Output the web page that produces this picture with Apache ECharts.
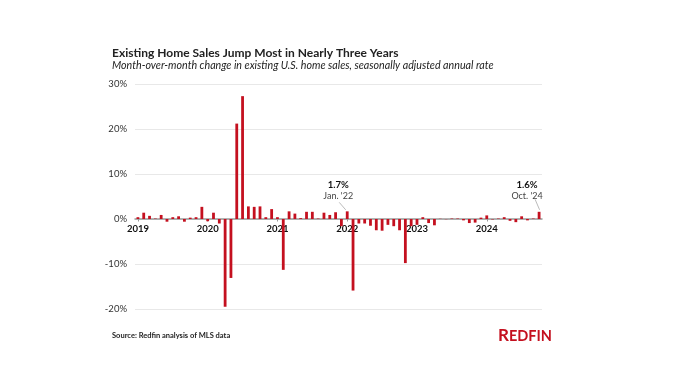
<!DOCTYPE html>
<html>
<head>
<meta charset="utf-8">
<script src="https://cdn.jsdelivr.net/npm/echarts@6/dist/echarts.min.js"></script>
<style>
html,body{margin:0;padding:0;background:#fff;}
#c{width:700px;height:379px;}
</style>
</head>
<body>
<div id="c"></div>
<script>
// Months Jan 2019 .. Oct 2024
const years = [2019, 2020, 2021, 2022, 2023, 2024];
const monthsPerYear = 12;
const lastYearMonths = 10;
const categories = [];
years.forEach((y, k) => {
  const n = k === years.length - 1 ? lastYearMonths : monthsPerYear;
  for (let m = 1; m <= n; m++) categories.push(y + '-' + String(m).padStart(2, '0'));
});

// Month-over-month change (%)
const values2019 = [0.4, 1.4, 0.7, 0.1, 0.9, -0.6, 0.4, 0.6, -0.6, 0.3, 0.4, 2.7];
const values2020 = [-0.5, 1.4, -1.0, -19.5, -13.1, 21.2, 27.3, 2.8, 2.7, 2.8, 0.4, 2.2];
const values2021 = [0.4, -11.3, 1.7, 1.2, 0.2, 1.6, 1.6, 0.1, 1.4, 0.9, 1.5, -1.6];
const values2022 = [1.7, -15.9, -1.0, -1.0, -1.5, -2.5, -2.6, -1.3, -1.6, -2.5, -9.8, -1.6];
const values2023 = [-1.3, 0.4, -0.9, -1.4, 0.05, -0.05, 0.1, 0.1, -0.3, -0.9, -0.8, 0.3];
const values2024 = [0.8, -0.1, 0.1, 0.4, -0.4, -0.7, 0.6, -0.3, 0.1, 1.6];
const values = [].concat(values2019, values2020, values2021, values2022, values2023, values2024);

const yTicks = [-20, -10, 0, 10, 20, 30];

const notes = [
  { cat: '2022-01', head: '1.7%', sub: "Jan. '22" },
  { cat: '2024-10', head: '1.6%', sub: "Oct. '24" }
];

const titleText = 'Existing Home Sales Jump Most in Nearly Three Years';
const subtitleText = 'Month-over-month change in existing U.S. home sales, seasonally adjusted annual rate';
const sourceLabel = 'Source:';
const sourceText = ' Redfin analysis of MLS data';

const RED = '#c4101f';
const GRID = { left: 135, right: 158, top: 84, bottom: 70 };
const plotH = 379 - GRID.top - GRID.bottom;
const yMin = yTicks[0], yMax = yTicks[yTicks.length - 1];
const zeroOffset = -plotH * (0 - yMin) / (yMax - yMin);

const chart = echarts.init(document.getElementById('c'), null, { renderer: 'canvas' });
const isJan = (i) => categories[i].endsWith('-01');

chart.setOption({
  backgroundColor: '#fff',
  animation: false,
  title: [
    { text: titleText, left: 107, top: 42,
      textStyle: { fontFamily: 'Lato', fontSize: 12, fontWeight: 'bold', color: '#222' } },
    { text: subtitleText, left: 107, top: 55,
      textStyle: { fontFamily: 'Lato', fontSize: 10.7, fontStyle: 'italic', fontWeight: 'normal', color: '#222' } },
    { text: '{b|' + sourceLabel + '}{n|' + sourceText + '}', left: 107, top: 327,
      textStyle: { rich: {
        b: { fontFamily: 'Lato', fontSize: 7.5, fontWeight: 'bold', color: '#222' },
        n: { fontFamily: 'Lato', fontSize: 7.5, color: '#222' } } } },
    { text: '{r|R}{e|EDFIN}', left: 493, top: 322,
      textStyle: { rich: {
        r: { fontFamily: 'Lato', fontSize: 17, fontWeight: 'bold', color: RED, verticalAlign: 'bottom' },
        e: { fontFamily: 'Lato', fontSize: 14.5, fontWeight: 'bold', color: RED, verticalAlign: 'bottom' } } } }
  ],
  grid: Object.assign({ containLabel: false }, GRID),
  xAxis: {
    type: 'category',
    data: categories,
    boundaryGap: true,
    offset: zeroOffset,
    axisLine: { onZero: false, lineStyle: { color: '#9a9a9a', width: 1.5 } },
    axisTick: { show: true, alignWithLabel: true, length: 2.5, interval: (i) => isJan(i),
      lineStyle: { color: '#9a9a9a' } },
    axisLabel: {
      interval: (i) => isJan(i),
      formatter: (v) => v.slice(0, 4),
      fontFamily: 'Lato', fontSize: 9.5, fontWeight: 'bold', color: '#111', margin: 5
    },
    splitLine: { show: false }
  },
  yAxis: {
    type: 'value',
    min: yMin, max: yMax, interval: 10,
    axisLine: { show: false },
    axisTick: { show: false },
    axisLabel: { formatter: '{value}%', fontFamily: 'Lato', fontSize: 9.5, color: '#333', margin: 8 },
    splitLine: { lineStyle: { color: '#e8e8e8', width: 1 } }
  },
  series: [{
    type: 'bar',
    data: values,
    barWidth: 2.8,
    itemStyle: { color: RED },
    z: 3
  }]
});

// annotations anchored to bar tops
const offsets = [
  { hx: -9, hy: -26, sy: -15, l: [-8, -9, -1.5, -1.5] },
  { hx: -12, hy: -27, sy: -16, l: [-4, -12.5, 0.5, -2] }
];
const graphics = [];
notes.forEach((n, k) => {
  const idx = categories.indexOf(n.cat);
  const p = chart.convertToPixel({ seriesIndex: 0 }, [idx, values[idx]]);
  const o = offsets[k];
  graphics.push({ type: 'text', x: p[0] + o.hx, y: p[1] + o.hy,
    style: { text: n.head, fontFamily: 'Lato', fontSize: 9.5, fontWeight: 'bold', fill: '#111',
      align: 'center', verticalAlign: 'middle' } });
  graphics.push({ type: 'text', x: p[0] + o.hx, y: p[1] + o.sy,
    style: { text: n.sub, fontFamily: 'Lato', fontSize: 9, fill: '#444',
      align: 'center', verticalAlign: 'middle' } });
  graphics.push({ type: 'line', shape: { x1: p[0] + o.l[0], y1: p[1] + o.l[1], x2: p[0] + o.l[2], y2: p[1] + o.l[3] },
    style: { stroke: '#aaa', lineWidth: 0.8 } });
});
chart.setOption({ graphic: graphics });
</script>
</body>
</html>
